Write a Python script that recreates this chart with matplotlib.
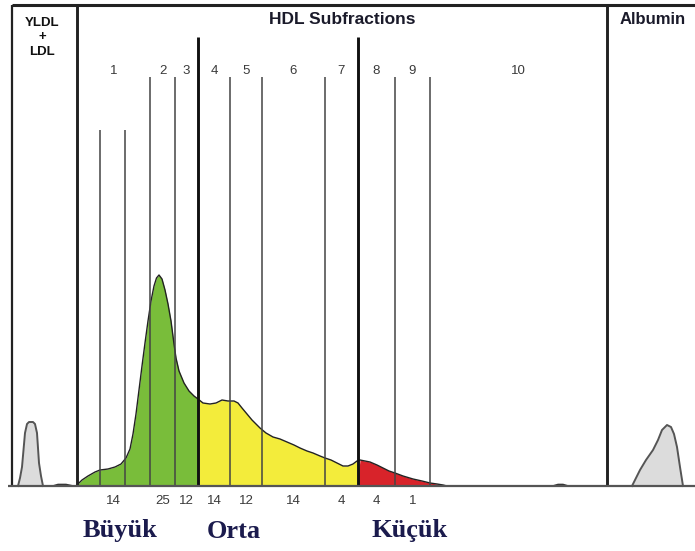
import numpy as np
import matplotlib
matplotlib.use('Agg')
import matplotlib.pyplot as plt

# HDL density profile (x = migration position, y = density above baseline)
curve_x = [77, 82, 88, 95, 100, 108, 115, 121, 126, 130, 133, 136, 139, 142, 145, 148, 151, 154, 156.5, 159,
           162, 165, 168, 171, 174, 176, 179, 184, 189, 194, 198, 203, 210, 216, 222, 228, 234, 238, 242, 247,
           252, 260, 266, 273, 280, 287, 294, 300, 307, 313, 320, 325, 331, 337, 343, 348, 353, 357, 360, 365,
           370, 377, 383, 389, 395, 403, 413, 422, 430, 437, 443, 447]
curve_y = [1, 6, 10, 14, 16, 17, 19, 22, 28, 37, 52, 72, 96, 120, 143, 165, 185, 200, 208, 211,
           207, 196, 182, 165, 142, 128, 115, 103, 95, 90, 87, 83, 82, 83, 86, 85, 85, 83, 78, 72,
           66, 58, 53, 49, 47, 44, 41, 38, 35, 33, 30, 28, 26, 23, 20, 20, 22, 25, 26, 25,
           24, 21, 18, 15, 13, 10, 7, 5, 3, 2, 1, 0]

# VLDL+LDL and albumin peaks
vldl_x = [18, 20, 22, 25, 27, 29, 33, 35, 37, 39, 41, 43]
vldl_y = [0, 8, 19, 53, 62, 64, 64, 62, 53, 23, 10, 0]
alb_x = [632, 636, 640, 646, 653, 658, 662, 667, 671, 674, 677, 680, 683]
alb_y = [0, 8, 16, 26, 36, 46, 56, 61, 59, 52, 39, 19, 0]

# small traces near the baseline
trace_x = [[53, 58, 66, 73], [553, 558, 563, 568]]
trace_y = [[0, 1.5, 1.5, 0], [0, 1.5, 1.5, 0]]

# fraction boundaries
thin_short = [100, 125]
thin_long = [150, 175, 230, 262, 325, 395, 430]
thick = [198, 358]
frame = [12, 77, 607]
region_edges = [77, 150, 175, 198, 230, 262, 325, 358, 395, 430, 607]
sub_labels = ['1', '2', '3', '4', '5', '6', '7', '8', '9', '10']
percents = ['14', '25', '12', '14', '12', '14', '4', '4', '1', '']
groups = ['Büyük', 'Orta', 'Küçük']
group_x = [120, 234, 410]

green = '#79bd3a'
yellow = '#f3ec3b'
red = '#d8232a'

fig = plt.figure(figsize=(6.95, 5.51), dpi=100)
ax = fig.add_axes([0, 0, 1, 1])
ax.set_xlim(0, 695)
ax.set_ylim(-65, 486)
ax.axis('off')

cx = np.array(curve_x)
cy = np.array(curve_y)
ax.fill_between(cx, 0, cy, where=cx <= 198, color=green, interpolate=True, lw=0)
ax.fill_between(cx, 0, cy, where=(cx >= 198) & (cx <= 358), color=yellow, interpolate=True, lw=0)
ax.fill_between(cx, 0, cy, where=cx >= 358, color=red, interpolate=True, lw=0)
ax.plot(cx, cy, color='#222222', lw=1.0)

for px, py in [(vldl_x, vldl_y), (alb_x, alb_y)]:
    ax.fill_between(px, 0, py, color='#dcdcdc', lw=0)
    ax.plot(px, py, color='#555555', lw=1.4)
for tx, ty in zip(trace_x, trace_y):
    ax.plot(tx, ty, color='#333333', lw=1.2)

# vertical lines
ax.vlines(thin_short, 0, 356, color='#444444', lw=1.1)
ax.vlines(thin_long, 0, 409, color='#444444', lw=1.1)
ax.vlines(thick, 0, 449, color='#111111', lw=2.1)
ax.vlines(frame, 0, 481, color='#222222', lw=[1.6, 2.1, 2.1])
ax.hlines(481, 12, 695, color='#222222', lw=2.2)
ax.hlines(0, 8, 695, color='#555555', lw=1.6)

# labels
mids = [(a + b) / 2 for a, b in zip(region_edges[:-1], region_edges[1:])]
for m, s, p in zip(mids, sub_labels, percents):
    ax.text(m, 415, s, ha='center', va='center', fontsize=9.5, color='#3a3a3a', family='Liberation Sans')
    ax.text(m, -15, p, ha='center', va='center', fontsize=9.5, color='#3a3a3a', family='Liberation Sans')

ax.text(342, 466, 'HDL Subfractions', ha='center', va='center', fontsize=12.5, fontweight='heavy',
        color='#1a1a2a', family='Liberation Sans')
ax.text(653, 466, 'Albumin', ha='center', va='center', fontsize=12, fontweight='heavy',
        color='#1a1a2a', family='Liberation Sans')
for s, yy in zip(['YLDL', '+', 'LDL'], [463, 449, 434]):
    ax.text(42, yy, s, ha='center', va='center', fontsize=9.5, fontweight='heavy',
            color='#111111', family='Liberation Sans')

for g, gx in zip(groups, group_x):
    ax.text(gx, -45, g, ha='center', va='center', fontsize=19, fontweight='bold',
            color='#1b1b4d', family='Liberation Serif')

fig.savefig('out.png', dpi=100)
